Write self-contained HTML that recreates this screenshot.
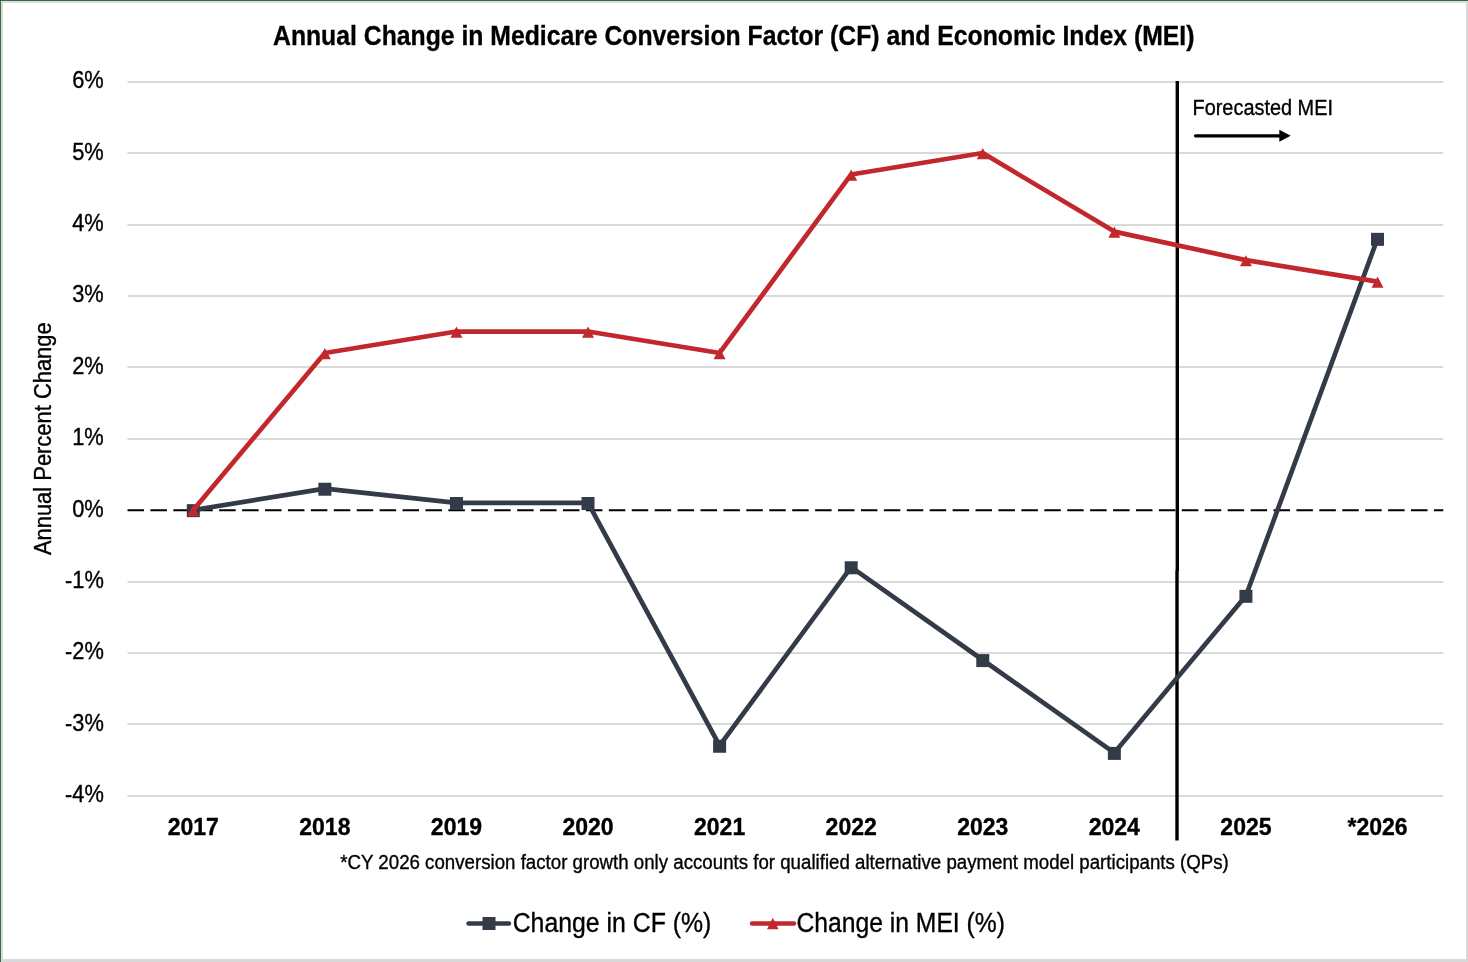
<!DOCTYPE html>
<html><head><meta charset="utf-8"><style>
html,body{margin:0;padding:0;background:#fff;}
body{width:1468px;height:962px;overflow:hidden;}
svg{display:block;will-change:transform;}
text{font-family:"Liberation Sans", sans-serif;fill:#000;stroke:#000;stroke-width:0.35px;}
</style></head><body>
<svg width="1468" height="962" viewBox="0 0 1468 962">
<rect x="0" y="0" width="1468" height="962" fill="#ffffff"/>

<rect x="0" y="0" width="1468" height="1" fill="#386a3f"/>
<rect x="0" y="0" width="1" height="962" fill="#386a3f"/>
<rect x="1" y="1" width="1467" height="2" fill="#dcdcdc"/>
<rect x="1" y="1" width="2" height="961" fill="#dcdcdc"/>
<rect x="1466" y="1" width="2" height="961" fill="#d9d9d9"/>
<rect x="1" y="959" width="1467" height="3" fill="#d9d9d9"/>
<text x="273" y="44.8" font-size="28.5" font-weight="bold" textLength="921.5" lengthAdjust="spacingAndGlyphs">Annual Change in Medicare Conversion Factor (CF) and Economic Index (MEI)</text>
<rect x="127.5" y="81" width="1315.8" height="2" fill="#d9d9d9"/>
<rect x="127.5" y="152" width="1315.8" height="2" fill="#d9d9d9"/>
<rect x="127.5" y="224" width="1315.8" height="2" fill="#d9d9d9"/>
<rect x="127.5" y="295" width="1315.8" height="2" fill="#d9d9d9"/>
<rect x="127.5" y="366" width="1315.8" height="2" fill="#d9d9d9"/>
<rect x="127.5" y="438" width="1315.8" height="2" fill="#d9d9d9"/>
<rect x="127.5" y="581" width="1315.8" height="2" fill="#d9d9d9"/>
<rect x="127.5" y="652" width="1315.8" height="2" fill="#d9d9d9"/>
<rect x="127.5" y="723" width="1315.8" height="2" fill="#d9d9d9"/>
<rect x="127.5" y="795" width="1315.8" height="2" fill="#d9d9d9"/>
<text transform="translate(103.8,88.25) scale(0.95,1)" font-size="23" text-anchor="end">6%</text>
<text transform="translate(103.8,159.65) scale(0.95,1)" font-size="23" text-anchor="end">5%</text>
<text transform="translate(103.8,231.05) scale(0.95,1)" font-size="23" text-anchor="end">4%</text>
<text transform="translate(103.8,302.45) scale(0.95,1)" font-size="23" text-anchor="end">3%</text>
<text transform="translate(103.8,373.85) scale(0.95,1)" font-size="23" text-anchor="end">2%</text>
<text transform="translate(103.8,445.25) scale(0.95,1)" font-size="23" text-anchor="end">1%</text>
<text transform="translate(103.8,516.65) scale(0.95,1)" font-size="23" text-anchor="end">0%</text>
<text transform="translate(103.8,588.05) scale(0.95,1)" font-size="23" text-anchor="end">-1%</text>
<text transform="translate(103.8,659.45) scale(0.95,1)" font-size="23" text-anchor="end">-2%</text>
<text transform="translate(103.8,730.85) scale(0.95,1)" font-size="23" text-anchor="end">-3%</text>
<text transform="translate(103.8,802.25) scale(0.95,1)" font-size="23" text-anchor="end">-4%</text>
<line x1="127.5" y1="510.2" x2="1443.3" y2="510.2" stroke="#000" stroke-width="2.1" stroke-dasharray="16.5 6.42"/>
<rect x="1175.6" y="81" width="3.4" height="490" fill="#000"/>
<rect x="1175.3" y="570.5" width="3.4" height="270" fill="#000"/>
<text x="1192.5" y="114.9" font-size="21.5" textLength="140.5" lengthAdjust="spacingAndGlyphs">Forecasted MEI</text>
<line x1="1195.5" y1="135.8" x2="1282" y2="135.8" stroke="#000" stroke-width="3.3" stroke-linecap="round"/>
<path d="M1279.3,129.8 L1290.7,135.8 L1279.3,141.8 Z" fill="#000"/>
<polyline points="193.29,510.05 324.87,488.63 456.45,502.91 588.03,502.91 719.61,745.67 851.19,567.17 982.77,659.99 1114.35,752.81 1245.93,595.73 1377.51,238.73" fill="none" stroke="#343b48" stroke-width="4.7" stroke-linejoin="round" stroke-linecap="round"/>
<rect x="186.79" y="504.15" width="13" height="13" fill="#343b48"/>
<rect x="318.37" y="482.73" width="13" height="13" fill="#343b48"/>
<rect x="449.95" y="497.01" width="13" height="13" fill="#343b48"/>
<rect x="581.53" y="497.01" width="13" height="13" fill="#343b48"/>
<rect x="713.11" y="739.77" width="13" height="13" fill="#343b48"/>
<rect x="844.69" y="561.27" width="13" height="13" fill="#343b48"/>
<rect x="976.27" y="654.09" width="13" height="13" fill="#343b48"/>
<rect x="1107.85" y="746.91" width="13" height="13" fill="#343b48"/>
<rect x="1239.43" y="589.83" width="13" height="13" fill="#343b48"/>
<rect x="1371.01" y="232.83" width="13" height="13" fill="#343b48"/>
<polyline points="193.29,510.05 324.87,352.97 456.45,331.55 588.03,331.55 719.61,352.97 851.19,174.47 982.77,153.05 1114.35,231.59 1245.93,260.15 1377.51,281.57" fill="none" stroke="#c1272d" stroke-width="4.7" stroke-linejoin="round" stroke-linecap="round"/>
<path d="M193.29,505.05 L199.29,516.25 L187.29,516.25 Z" fill="#c1272d"/>
<path d="M324.87,347.97 L330.87,359.17 L318.87,359.17 Z" fill="#c1272d"/>
<path d="M456.45,326.55 L462.45,337.75 L450.45,337.75 Z" fill="#c1272d"/>
<path d="M588.03,326.55 L594.03,337.75 L582.03,337.75 Z" fill="#c1272d"/>
<path d="M719.61,347.97 L725.61,359.17 L713.61,359.17 Z" fill="#c1272d"/>
<path d="M851.19,169.47 L857.19,180.67 L845.19,180.67 Z" fill="#c1272d"/>
<path d="M982.77,148.05 L988.77,159.25 L976.77,159.25 Z" fill="#c1272d"/>
<path d="M1114.35,226.59 L1120.35,237.79 L1108.35,237.79 Z" fill="#c1272d"/>
<path d="M1245.93,255.15 L1251.93,266.35 L1239.93,266.35 Z" fill="#c1272d"/>
<path d="M1377.51,276.57 L1383.51,287.77 L1371.51,287.77 Z" fill="#c1272d"/>
<text x="193.29" y="835" font-size="23" font-weight="bold" text-anchor="middle">2017</text>
<text x="324.87" y="835" font-size="23" font-weight="bold" text-anchor="middle">2018</text>
<text x="456.45" y="835" font-size="23" font-weight="bold" text-anchor="middle">2019</text>
<text x="588.03" y="835" font-size="23" font-weight="bold" text-anchor="middle">2020</text>
<text x="719.61" y="835" font-size="23" font-weight="bold" text-anchor="middle">2021</text>
<text x="851.19" y="835" font-size="23" font-weight="bold" text-anchor="middle">2022</text>
<text x="982.77" y="835" font-size="23" font-weight="bold" text-anchor="middle">2023</text>
<text x="1114.35" y="835" font-size="23" font-weight="bold" text-anchor="middle">2024</text>
<text x="1245.93" y="835" font-size="23" font-weight="bold" text-anchor="middle">2025</text>
<text x="1377.51" y="835" font-size="23" font-weight="bold" text-anchor="middle">*2026</text>
<text x="340.3" y="868.9" font-size="20" textLength="888.5" lengthAdjust="spacingAndGlyphs">*CY 2026 conversion factor growth only accounts for qualified alternative payment model participants (QPs)</text>
<line x1="468.5" y1="923.5" x2="509" y2="923.5" stroke="#343b48" stroke-width="4.4" stroke-linecap="round"/>
<rect x="482.5" y="917" width="13" height="13" fill="#343b48"/>
<text x="512.7" y="931.9" font-size="27" textLength="198.6" lengthAdjust="spacingAndGlyphs">Change in CF (%)</text>
<line x1="752" y1="923.5" x2="794" y2="923.5" stroke="#c1272d" stroke-width="4.4" stroke-linecap="round"/>
<path d="M772.8,917.7 L778.6,929.3 L767,929.3 Z" fill="#c1272d"/>
<text x="796.4" y="931.9" font-size="27" textLength="208.6" lengthAdjust="spacingAndGlyphs">Change in MEI (%)</text>
<text transform="translate(50.9,555.1) rotate(-90)" x="0" y="0" font-size="23" textLength="232.8" lengthAdjust="spacingAndGlyphs">Annual Percent Change</text>
</svg></body></html>
